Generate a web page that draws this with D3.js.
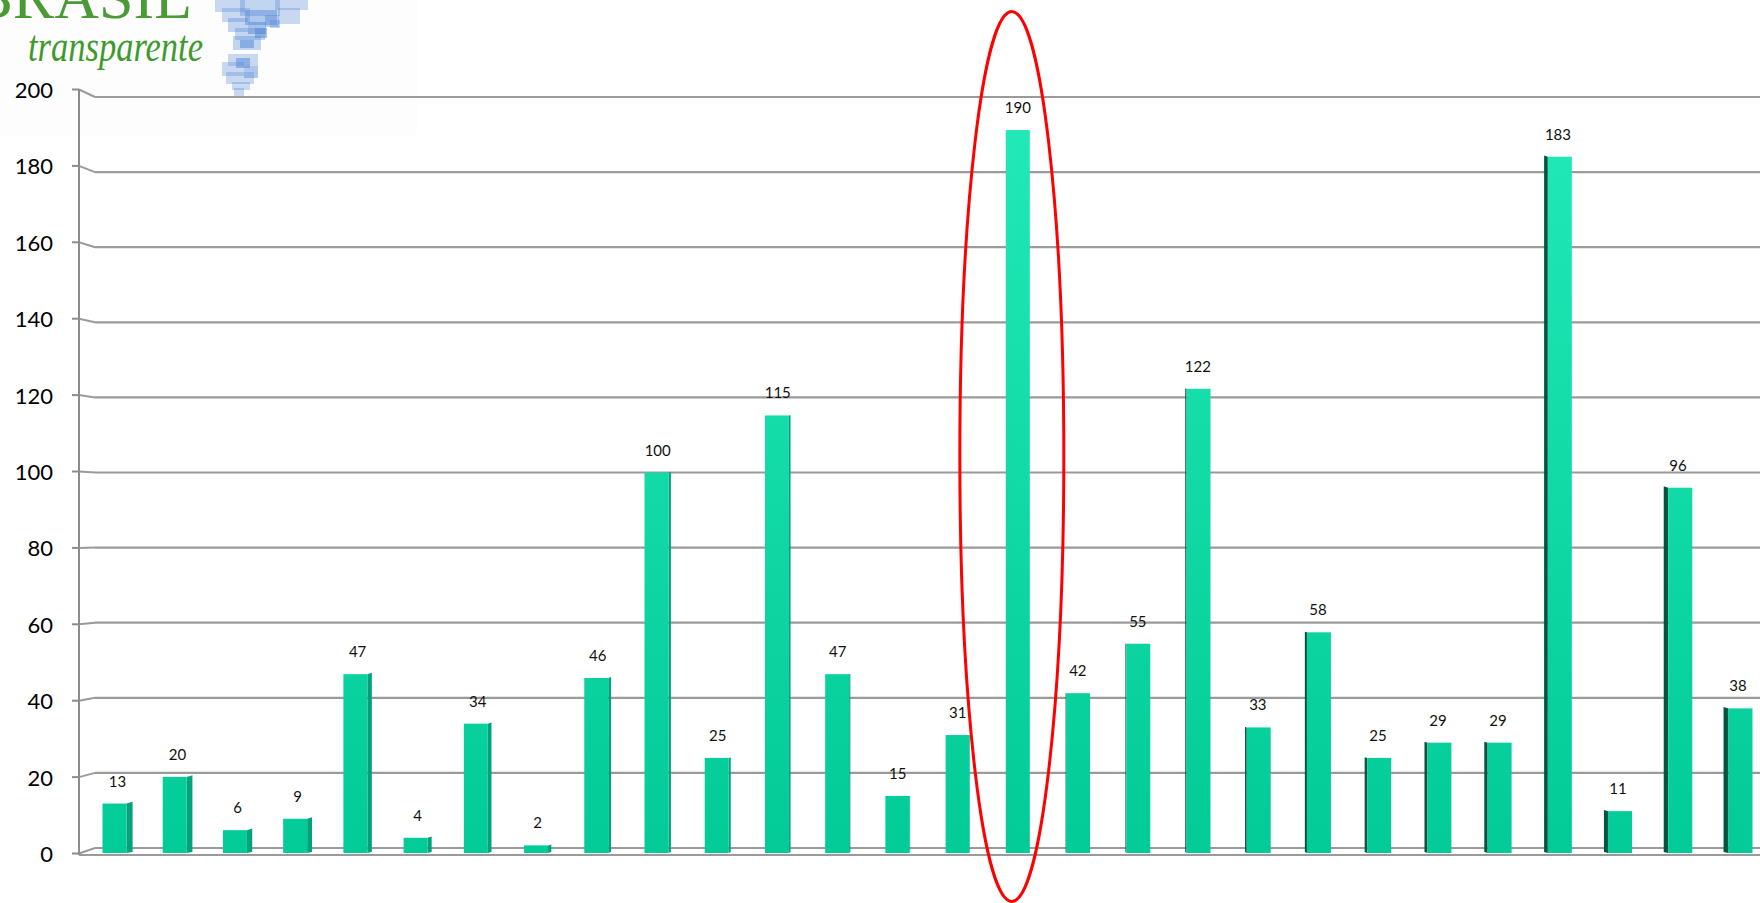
<!DOCTYPE html>
<html>
<head>
<meta charset="utf-8">
<script src="https://cdn.jsdelivr.net/npm/d3@7"></script>
<style>
  body { margin: 0; background: #ffffff; }
  svg { display: block; }
</style>
</head>
<body>
<svg id="chart"></svg>
<script>
// valeurs
const categories = d3.range(1, 29).map(d => "C" + d);
const values = [13, 20, 6, 9, 47, 4, 34, 2, 46, 100, 25, 115, 47, 15, 31, 190,
                42, 55, 122, 33, 58, 25, 29, 29, 183, 11, 96, 38];
const yTicks = [0, 20, 40, 60, 80, 100, 120, 140, 160, 180, 200];
const highlighted = "C16";

const fullWidth = 1760;
const fullHeight = 903;

const svg = d3.select("#chart")
    .attr("width", fullWidth)
    .attr("height", fullHeight)
    .attr("viewBox", `0 0 ${fullWidth} ${fullHeight}`);

// faux logo en haut à gauche
const logo = svg.append("g").attr("class", "logo");
logo.append("rect")
    .attr("x", 0).attr("y", 0).attr("width", 417).attr("height", 135)
    .style("fill", "#fdfdfd");
const pixels = [
    [215, 0, 30, 12, 0.3], [240, 0, 40, 16, 0.35], [275, 0, 33, 10, 0.3],
    [222, 8, 28, 14, 0.3], [245, 10, 32, 15, 0.45], [278, 8, 22, 16, 0.3],
    [228, 18, 20, 14, 0.35], [248, 22, 18, 12, 0.5], [265, 15, 14, 12, 0.4],
    [235, 28, 30, 12, 0.35], [255, 28, 12, 10, 0.5], [270, 20, 10, 8, 0.35],
    [233, 36, 28, 14, 0.35], [240, 40, 14, 8, 0.5],
    [228, 54, 30, 12, 0.3], [222, 62, 22, 14, 0.3], [236, 58, 14, 10, 0.5],
    [244, 66, 14, 12, 0.45], [226, 72, 28, 12, 0.3], [232, 82, 18, 8, 0.3],
    [234, 88, 10, 10, 0.3]
];
logo.selectAll("rect.px")
    .data(pixels)
    .enter()
    .append("rect")
    .attr("class", "px")
    .attr("x", d => d[0]).attr("y", d => d[1])
    .attr("width", d => d[2]).attr("height", d => d[3])
    .style("fill", "#4f86d6")
    .style("opacity", d => d[4]);
logo.append("text")
    .attr("x", 192).attr("y", 18)
    .attr("text-anchor", "end")
    .style("font-family", "'Liberation Serif', serif")
    .style("font-size", "62px")
    .style("fill", "#4a9a36")
    .text("BRASIL");
logo.append("text")
    .attr("x", 28).attr("y", 61)
    .attr("textLength", 175)
    .attr("lengthAdjust", "spacingAndGlyphs")
    .style("font-family", "'Liberation Serif', serif")
    .style("font-style", "italic")
    .style("font-size", "44px")
    .style("fill", "#3f9a2e")
    .text("transparente");

// échelles (légère perspective : face avant, mur du fond, barres)
const axisX = 79;
const wallX = 95;
const yAxis = d3.scaleLinear().domain([0, 200]).range([853.5, 89.5]);
const yWall = d3.scaleLinear().domain([0, 200]).range([848, 97]);
const yBar = d3.scaleLinear().domain([0, 200]).range([853, 92]);
const x = d3.scalePoint().domain(categories).range([114.5, 1740.5]);
const faceW = 24;
const eyeX = 1012;
const sideOf = c => 0.0068 * (eyeX - c);

const defs = svg.append("defs");
const grad = defs.append("linearGradient")
    .attr("id", "barGrad")
    .attr("gradientUnits", "userSpaceOnUse")
    .attr("x1", 0).attr("x2", 0)
    .attr("y1", yBar(200)).attr("y2", yBar(0));
grad.append("stop").attr("offset", "0%").attr("stop-color", "#22eab8");
grad.append("stop").attr("offset", "100%").attr("stop-color", "#02cb97");

// quadrillage du fond + diagonales de perspective
const grid = svg.append("g").attr("class", "grid");
grid.selectAll("line.h")
    .data(yTicks)
    .enter()
    .append("line")
    .attr("class", "h")
    .attr("x1", wallX).attr("x2", fullWidth)
    .attr("y1", d => yWall(d)).attr("y2", d => yWall(d))
    .style("stroke", "#9a9a9a")
    .style("stroke-width", 2.2);
grid.selectAll("line.d")
    .data(yTicks)
    .enter()
    .append("line")
    .attr("class", "d")
    .attr("x1", axisX).attr("x2", wallX)
    .attr("y1", d => yAxis(d)).attr("y2", d => yWall(d))
    .style("stroke", "#9a9a9a")
    .style("stroke-width", 2);

// barres
const data = categories.map((c, i) => ({ cat: c, value: values[i] }));
const bars = svg.append("g").attr("class", "bars")
    .selectAll("g")
    .data(data)
    .enter()
    .append("g");

bars.append("path")
    .attr("d", d => {
        const c = x(d.cat);
        const s = sideOf(c);
        const top = yBar(d.value);
        const bottom = yBar(0);
        const edge = s > 0 ? c + faceW / 2 : c - faceW / 2;
        return `M${edge},${top} L${edge + s},${top - Math.abs(s) * 0.3} L${edge + s},${bottom - 1} L${edge},${bottom} Z`;
    })
    .style("fill", d => sideOf(x(d.cat)) > 0 ? "#03a27b" : "#00563f");

bars.append("rect")
    .attr("x", d => x(d.cat) - faceW / 2)
    .attr("y", d => yBar(d.value))
    .attr("width", faceW)
    .attr("height", d => yBar(0) - yBar(d.value))
    .style("fill", "url(#barGrad)");

bars.append("text")
    .attr("x", d => x(d.cat) + sideOf(x(d.cat)) / 2)
    .attr("y", d => yBar(d.value) - 17)
    .attr("text-anchor", "middle")
    .style("font-family", "Lato, 'Open Sans', sans-serif")
    .style("font-size", "15px")
    .style("fill", "#111")
    .text(d => d.value);

// axe vertical et sol
const axis = svg.append("g").attr("class", "y-axis");
axis.append("line")
    .attr("x1", axisX).attr("x2", axisX)
    .attr("y1", yAxis(200)).attr("y2", 855)
    .style("stroke", "#8c8c8c")
    .style("stroke-width", 2);
axis.append("line")
    .attr("x1", axisX).attr("x2", fullWidth)
    .attr("y1", 855).attr("y2", 855)
    .style("stroke", "#9a9a9a")
    .style("stroke-width", 2.2);
axis.selectAll("line.tick")
    .data(yTicks)
    .enter()
    .append("line")
    .attr("class", "tick")
    .attr("x1", 72).attr("x2", axisX)
    .attr("y1", d => yAxis(d)).attr("y2", d => yAxis(d))
    .style("stroke", "#8c8c8c")
    .style("stroke-width", 2);
axis.selectAll("text")
    .data(yTicks)
    .enter()
    .append("text")
    .attr("x", 53)
    .attr("y", d => yAxis(d))
    .attr("text-anchor", "end")
    .attr("dominant-baseline", "central")
    .style("font-family", "Lato, 'Open Sans', sans-serif")
    .style("font-size", "22px")
    .style("fill", "#000")
    .text(d => d);

// ellipse rouge autour de la plus grande barre
svg.append("ellipse")
    .attr("cx", x(highlighted) - 6)
    .attr("cy", 456.5)
    .attr("rx", 52)
    .attr("ry", 445)
    .style("fill", "none")
    .style("stroke", "#ff0000")
    .style("stroke-width", 3);
</script>
</body>
</html>
